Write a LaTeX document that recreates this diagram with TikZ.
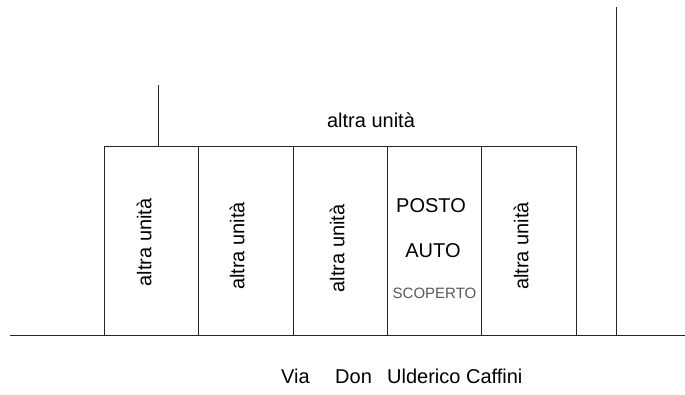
\documentclass[tikz,border=0pt]{standalone}
\usepackage{fontspec}
\setmainfont{Liberation Sans}
\tikzset{ln/.style={draw=black!85,line width=0.8pt},
cell/.style={ln,outer sep=0pt,inner sep=0pt,minimum height=188.4pt,anchor=north west},
lbl/.style={font=\fontsize{20pt}{24pt}\selectfont,text=black,inner sep=0pt},
small/.style={font=\fontsize{15pt}{18pt}\selectfont,text=black!65,inner sep=0pt}}
\begin{document}
\begin{tikzpicture}[x=1pt,y=-1pt]
\useasboundingbox[fill=white] (0,0) rectangle (685,394);
\coordinate (g1) at (10,335.2);\coordinate (g2) at (685,335.2);
\coordinate (v1) at (616,7);\coordinate (v2) at (616,335.2);
\coordinate (s1) at (158,85);\coordinate (s2) at (158,146.8);
\draw[ln] (g1)--(g2);
\draw[ln] (v1)--(v2);
\draw[ln] (s1)--(s2);
\foreach \n/\a/\b in {a/104/198.3,b/198.3/293.3,c/293.3/387.3,d/387.3/481.3,e/481.3/576.3}{
 \node[cell,draw,minimum width={(\b-\a)*1pt}] (\n) at (\a,146.8) {};}
\node[lbl,rotate=90] (ta) at (144,242.5) {altra unità};
\node[lbl,rotate=90] (tb) at (237,246) {altra unità};
\node[lbl,rotate=90] (tc) at (337,248.5) {altra unità};
\node[lbl,rotate=90] (te) at (521,246) {altra unità};
\node[lbl] (t1) at (371,120) {altra unità};
\node[lbl] (p1) at (431,205.5) {POSTO};
\node[lbl] (p2) at (433,251) {AUTO};
\node[small] (p3) at (434.5,293) {SCOPERTO};
\node[lbl,anchor=base west] (v) at (281,383) {Via};
\node[lbl,anchor=base west] (d) at (335,383) {Don};
\node[lbl,anchor=base west] (u) at (387,383) {Ulderico Caffini};
\end{tikzpicture}
\end{document}
